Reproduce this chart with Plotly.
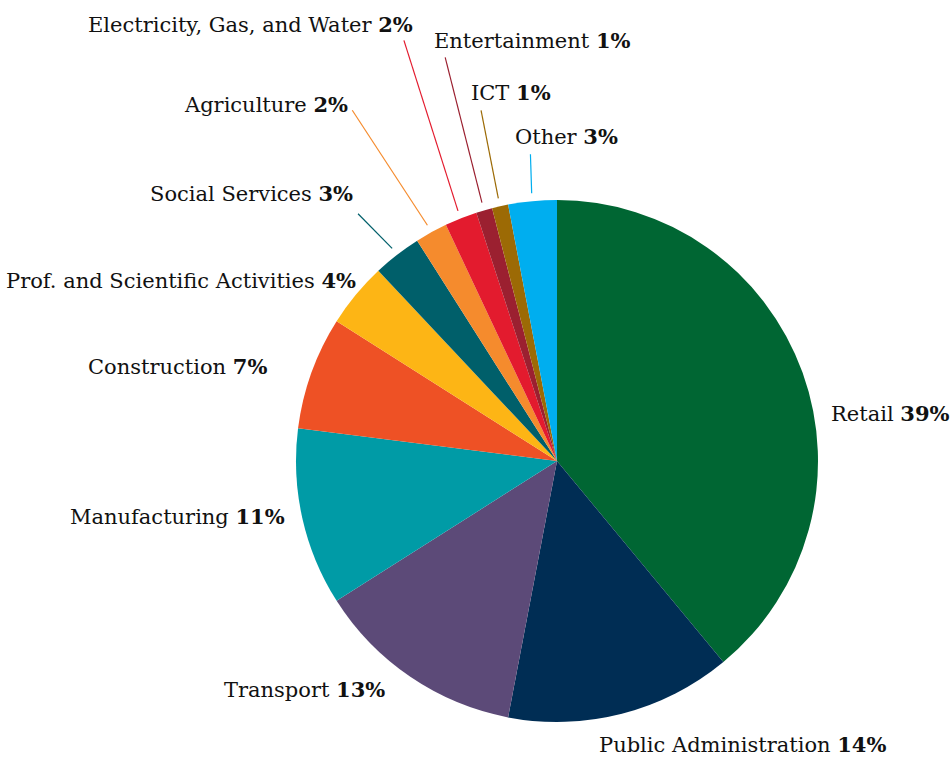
import math
import plotly.graph_objects as go

# Share of employment by sector (percent), clockwise from 12 o'clock
sectors = [
    "Retail", "Public Administration", "Transport", "Manufacturing",
    "Construction", "Prof. and Scientific Activities", "Social Services",
    "Agriculture", "Electricity, Gas, and Water", "Entertainment", "ICT", "Other",
]
shares = [39, 14, 13, 11, 7, 4, 3, 2, 2, 1, 1, 3]
colors = [
    "#006633", "#002D54", "#5C4A78", "#009BA6", "#EE5125", "#FDB515",
    "#005F6A", "#F58B2D", "#E31B2E", "#9B2030", "#9C6A05", "#00AEEF",
]

# Page geometry (px)
W, H = 952, 757
CX, CY, R = 557, 461, 261

# Label placement relative to each slice's rim midpoint: (dx, dy, xanchor)
label_offsets = [
    (26, 41, "left"), (-25, 31, "left"), (-23, 13, "right"), (-15, -1, "right"),
    (-42, -6, "right"), (2, -14, "right"), (-42, -61, "right"), (-81, -128, "right"),
    (-46, -194, "right"), (-52, -170, "left"), (-31, -114, "left"), (-19, -65, "left"),
]
# Leader lines: end point relative to the label anchor (None = no line)
leader_ends = [None, None, None, None, None, None,
               (3, 20), (2, 6), (-11, 16), (13, 17), (12, 18), (17, 18)]
LEADER_GAP = 8

FONT = "DejaVu Serif"
FSIZE = 21

fig = go.Figure(go.Pie(
    labels=sectors,
    values=shares,
    marker=dict(colors=colors, line=dict(width=0)),
    sort=False,
    direction="clockwise",
    rotation=0,
    textinfo="none",
    hoverinfo="label+percent",
    domain=dict(x=[(CX - R) / W, (CX + R) / W],
                y=[1 - (CY + R) / H, 1 - (CY - R) / H]),
    showlegend=False,
))

def to_paper(px, py):
    return px / W, 1 - py / H

total = sum(shares)
cum = 0
annotations, shapes = [], []
for name, val, col, (dx, dy, anchor), lead in zip(
        sectors, shares, colors, label_offsets, leader_ends):
    mid = (cum + val / 2) / total * 2 * math.pi
    cum += val
    sx, sy = math.sin(mid), -math.cos(mid)
    ex, ey = CX + R * sx, CY + R * sy
    lx, ly = ex + dx, ey + dy
    px, py = to_paper(lx, ly)
    annotations.append(dict(
        x=px, y=py, xref="paper", yref="paper",
        xanchor=anchor, yanchor="middle", showarrow=False,
        text=f"{name} <b>{round(val / total * 100)}%</b>",
        font=dict(family=FONT, size=FSIZE, color="#111111"),
    ))
    if lead is not None:
        x0, y0 = to_paper(CX + (R + LEADER_GAP) * sx, CY + (R + LEADER_GAP) * sy)
        x1, y1 = to_paper(lx + lead[0], ly + lead[1])
        shapes.append(dict(type="line", xref="paper", yref="paper",
                           x0=x0, y0=y0, x1=x1, y1=y1,
                           line=dict(color=col, width=1.2)))

fig.update_layout(
    width=W, height=H,
    margin=dict(l=0, r=0, t=0, b=0),
    paper_bgcolor="white",
    plot_bgcolor="white",
    annotations=annotations,
    shapes=shapes,
)

fig.write_html("out.html")
